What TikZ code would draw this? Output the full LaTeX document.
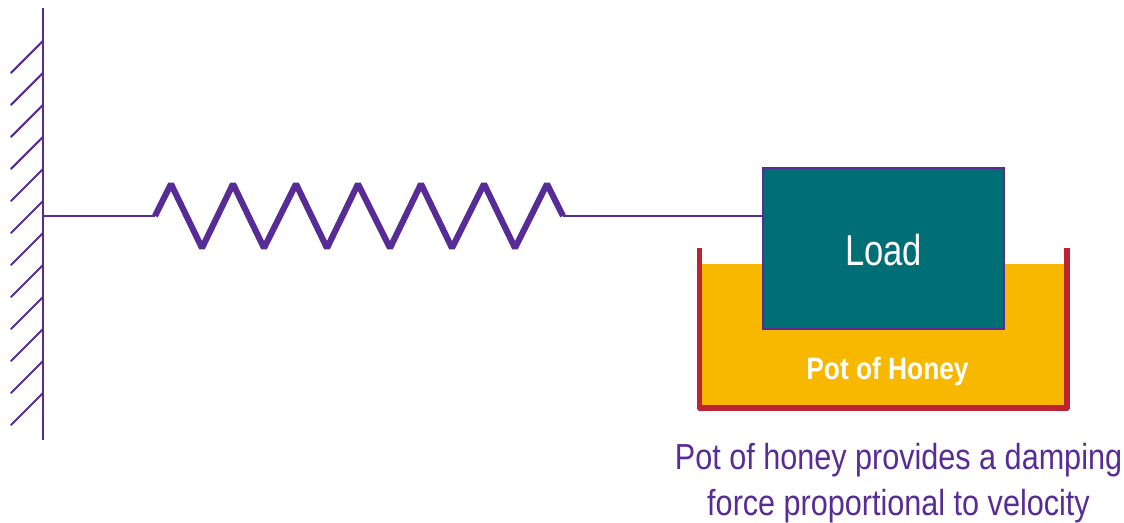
\documentclass[tikz,border=0pt]{standalone}
\usepackage{fontspec}
\setmainfont{Liberation Sans}
\newfontfamily\loadfont[FakeStretch=0.80]{Liberation Sans}
\newfontfamily\honeyfont[FakeStretch=0.85]{Liberation Sans}
\newfontfamily\notefont[FakeStretch=0.845]{Liberation Sans}
\usetikzlibrary{positioning}
\definecolor{rodpurple}{RGB}{88,44,150}
\definecolor{loadteal}{RGB}{0,110,117}
\definecolor{honeyyellow}{RGB}{248,184,0}
\definecolor{potred}{RGB}{190,35,52}
\tikzset{
  rod/.style={draw=rodpurple,line width=0.6pt},
  hatch/.style={draw=rodpurple,line width=0.6pt,line cap=round},
  coil/.style={draw=rodpurple,line width=1.75pt,line join=bevel},
  loadbox/.style={draw=rodpurple,line width=0.45pt,fill=loadteal,text=white,minimum width=2.41cm,minimum height=1.61cm,inner sep=0pt,text height=0.35cm,text depth=0pt},
  honey/.style={fill=honeyyellow},
  pot/.style={draw=potred,line width=1.5pt,line join=round}
}

\begin{document}
\begin{tikzpicture}
      \useasboundingbox (0,0) rectangle (11.24,5.23);
      \coordinate (walltop) at (0.43,5.15); \coordinate (wallbot) at (0.43,0.83);
      \coordinate (wallpt) at (0.43,3.07);
      \coordinate (coilL) at (1.55,3.07); \coordinate (coilR) at (5.63,3.07);
      \fill[honey] (7.00,2.59) rectangle (10.65,1.18);
      \node[loadbox,font=\loadfont\fontsize{12.3pt}{14pt}\selectfont] (load) at (8.835,2.745) {Load};
      \draw[pot] (6.993,2.75) -- (6.993,1.15) -- (10.67,1.15) -- (10.67,2.75);
      \node[text=white,font=\honeyfont\bfseries\fontsize{8.8pt}{10pt}\selectfont] (honeylab) at (8.875,1.51) {Pot of Honey};
      \node[text=rodpurple,align=center,font=\notefont\fontsize{10.3pt}{13pt}\selectfont] (note) at (8.985,0.40) {Pot of honey provides a damping\\force proportional to velocity};
      \draw[rod] (walltop) -- (wallbot);
      \foreach \y in {4.82,4.50,4.18,3.86,3.54,3.22,2.90,2.58,2.26,1.94,1.62,1.30} {
        \draw[hatch] (0.43,\y) -- ++(-0.32,-0.32);
      }
      \draw[rod] (wallpt) -- (coilL);
      \draw[coil] (coilL) -- (1.71,3.39) -- (2.02,2.75) -- (2.33,3.39) -- (2.64,2.75) -- (2.96,3.39) -- (3.27,2.75)
        -- (3.58,3.39) -- (3.90,2.75) -- (4.21,3.39) -- (4.52,2.75) -- (4.84,3.39) -- (5.15,2.75) -- (5.47,3.39) -- (coilR);
      \draw[rod] (coilR) -- (coilR -| load.west);
    \end{tikzpicture}
\end{document}
